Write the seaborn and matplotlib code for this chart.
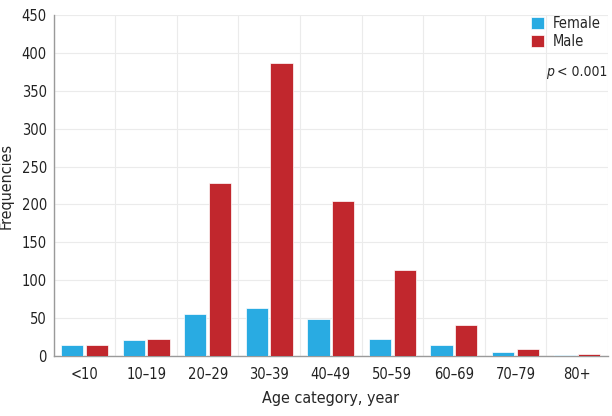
import numpy as np
import pandas as pd
import seaborn as sns
import matplotlib.pyplot as plt

# Values
age_groups = ["<10", "10–19", "20–29", "30–39", "40–49", "50–59", "60–69", "70–79", "80+"]
female = [14, 21, 56, 63, 49, 23, 15, 5, 1]
male = [14, 22, 228, 387, 205, 114, 41, 9, 3]
sexes = ["Female", "Male"]
palette = {"Female": "#29abe2", "Male": "#c1272d"}

df = pd.DataFrame({
    "age": age_groups * 2,
    "sex": ["Female"] * len(age_groups) + ["Male"] * len(age_groups),
    "count": female + male,
})

sns.set_style("white")
plt.rcParams['font.family'] = ['DejaVu Sans']
plt.rcParams['font.stretch'] = 'condensed'

fig = plt.figure(figsize=(6.12, 4.16), dpi=100)
ax = fig.add_axes([0.088, 0.144, 0.905, 0.820])

sns.barplot(data=df, x="age", y="count", hue="sex", hue_order=sexes,
            palette=palette, saturation=1, width=0.8, gap=0.1,
            edgecolor="white", linewidth=0.5, ax=ax, zorder=3)

ax.set_xlim(-0.5, len(age_groups) - 0.5)
ax.set_ylim(0, 450)
ax.set_yticks(np.arange(0, 451, 50))
ax.set_xticks(np.arange(-0.5, len(age_groups), 1), minor=True)
ax.grid(False)
ax.grid(axis="y", which="major", color="#ebebeb", linewidth=0.8, zorder=0)
ax.grid(axis="x", which="minor", color="#ebebeb", linewidth=0.8, zorder=0)
ax.tick_params(axis="both", which="both", length=0, labelsize=10.5, colors="#222222")
ax.tick_params(axis="x", pad=8)
ax.tick_params(axis="y", pad=5)

for side in ["top", "right"]:
    ax.spines[side].set_visible(False)
for side in ["left", "bottom"]:
    ax.spines[side].set_color("#9a9a9a")
    ax.spines[side].set_linewidth(1.0)

ax.set_xlabel("Age category, year", fontsize=11.5, labelpad=6)
ax.set_ylabel("Frequencies", fontsize=11.5)
ax.yaxis.set_label_coords(-0.072, 0.5)

leg = ax.legend(loc="upper left", bbox_to_anchor=(0.838, 1.035), frameon=False,
                fontsize=10.5, handlelength=0.9, handleheight=0.9,
                handletextpad=0.55, labelspacing=0.2)
ax.text(0.889, 0.833, "p", transform=ax.transAxes, fontsize=10,
        style="italic", ha="left", va="center")
ax.text(0.908, 0.833, "< 0.001", transform=ax.transAxes, fontsize=10,
        ha="left", va="center")

fig.savefig("out.png", dpi=100)
